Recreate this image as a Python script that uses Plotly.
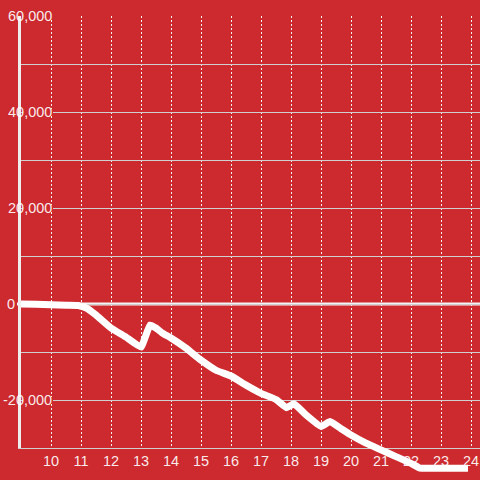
import plotly.graph_objects as go

BG = "#CC2A2F"
TXT = "rgba(255,255,255,0.92)"

# data
x_vals = [9.0, 9.5, 10.0, 10.5, 10.9, 11.2, 11.5, 12.0, 12.5, 13.0, 13.3, 13.5, 13.7,
          14.0, 14.5, 15.0, 15.5, 16.0, 16.5, 17.0, 17.5, 17.85, 18.1, 18.5, 19.0,
          19.3, 19.65, 20.0, 20.5, 21.0, 21.5, 22.0, 22.3, 23.0, 23.9]
y_vals = [0, -50, -150, -250, -300, -900, -2300, -5000, -6900, -9000, -4400, -5000, -6000,
          -7100, -9200, -11700, -13800, -15000, -16900, -18600, -19900, -21600, -20800, -23100, -25500,
          -24500, -25900, -27300, -29000, -30400, -31800, -33200, -34200, -34200, -34200]

x_ticks = list(range(10, 25))
y_tick_vals = [60000, 40000, 20000, 0, -20000]
y_tick_text = ["60,000", "40,000", "20,000", "0", "-20,000"]

W, H = 480, 480
L, R, T, B = 21, 0, 16, 0
plot_w = W - L - R
plot_h = H - T - B
y_lo, y_hi = -30000, 60000
axis_bottom_px = 448
dom0 = (H - axis_bottom_px) / plot_h
y2_lo = y_lo - (H - axis_bottom_px) / (axis_bottom_px - T) * (y_hi - y_lo)
x_range = [9, 9 + plot_w / 30]
units_per_px = (y_hi - y_lo) / (axis_bottom_px - T)

fig = go.Figure()
fig.add_trace(go.Scatter(x=x_vals, y=y_vals, mode="lines", xaxis="x2", yaxis="y2",
                         line=dict(color="white", width=7, shape="spline", smoothing=0.3),
                         hoverinfo="skip", showlegend=False))

font = dict(family="Liberation Sans, Arial, sans-serif", size=14.5, color=TXT)

annotations = []
shapes = []
for v, t in zip(y_tick_vals, y_tick_text):
    if v == 0:
        xp = (16 - L) / plot_w
    else:
        xp = (52.5 - L) / plot_w
        # hide the grid line behind the label (axis line stays visible)
        shapes.append(dict(type="rect", xref="paper", yref="y",
                           x0=(23 - L) / plot_w, x1=(53 - L) / plot_w,
                           y0=v - 3 * units_per_px, y1=v + 3 * units_per_px,
                           fillcolor=BG, line=dict(width=0), layer="above"))
    annotations.append(dict(x=xp, xref="paper", y=v, yref="y", text=t, showarrow=False,
                            xanchor="right", yanchor="middle", font=font, borderpad=0))

# zero line extending slightly left of the axis
shapes.append(dict(type="line", xref="paper", yref="y", x0=(17 - L) / plot_w, x1=1,
                   y0=0, y1=0, line=dict(color="#f4f4f4", width=3), layer="below"))

fig.update_layout(
    width=W, height=H,
    margin=dict(l=L, r=R, t=T, b=B),
    paper_bgcolor=BG, plot_bgcolor="rgba(0,0,0,0)",
    font=font,
    xaxis=dict(range=x_range, domain=[0, 1], anchor="y", tickvals=x_ticks,
               showgrid=True, gridcolor="#f2f2f2", gridwidth=1, griddash="2px,2px",
               showline=True, linecolor="#cfcfcf", linewidth=1, ticks="",
               zeroline=False, tickfont=font),
    yaxis=dict(range=[y_lo, y_hi], domain=[dom0, 1], anchor="x", dtick=10000,
               showgrid=True, gridcolor="#d0d0d0", gridwidth=1,
               showticklabels=False, ticks="",
               showline=True, linecolor="#eeeeee", linewidth=3,
               zeroline=False),
    xaxis2=dict(range=x_range, domain=[0, 1], anchor="y2", visible=False),
    yaxis2=dict(range=[y2_lo, y_hi], domain=[0, 1], anchor="x2", visible=False),
    annotations=annotations,
    shapes=shapes,
)

fig.write_html("out.html", config={"displayModeBar": False},
               post_script="document.body.style.margin='0px';"
                           "document.body.style.background='#CC2A2F';")
